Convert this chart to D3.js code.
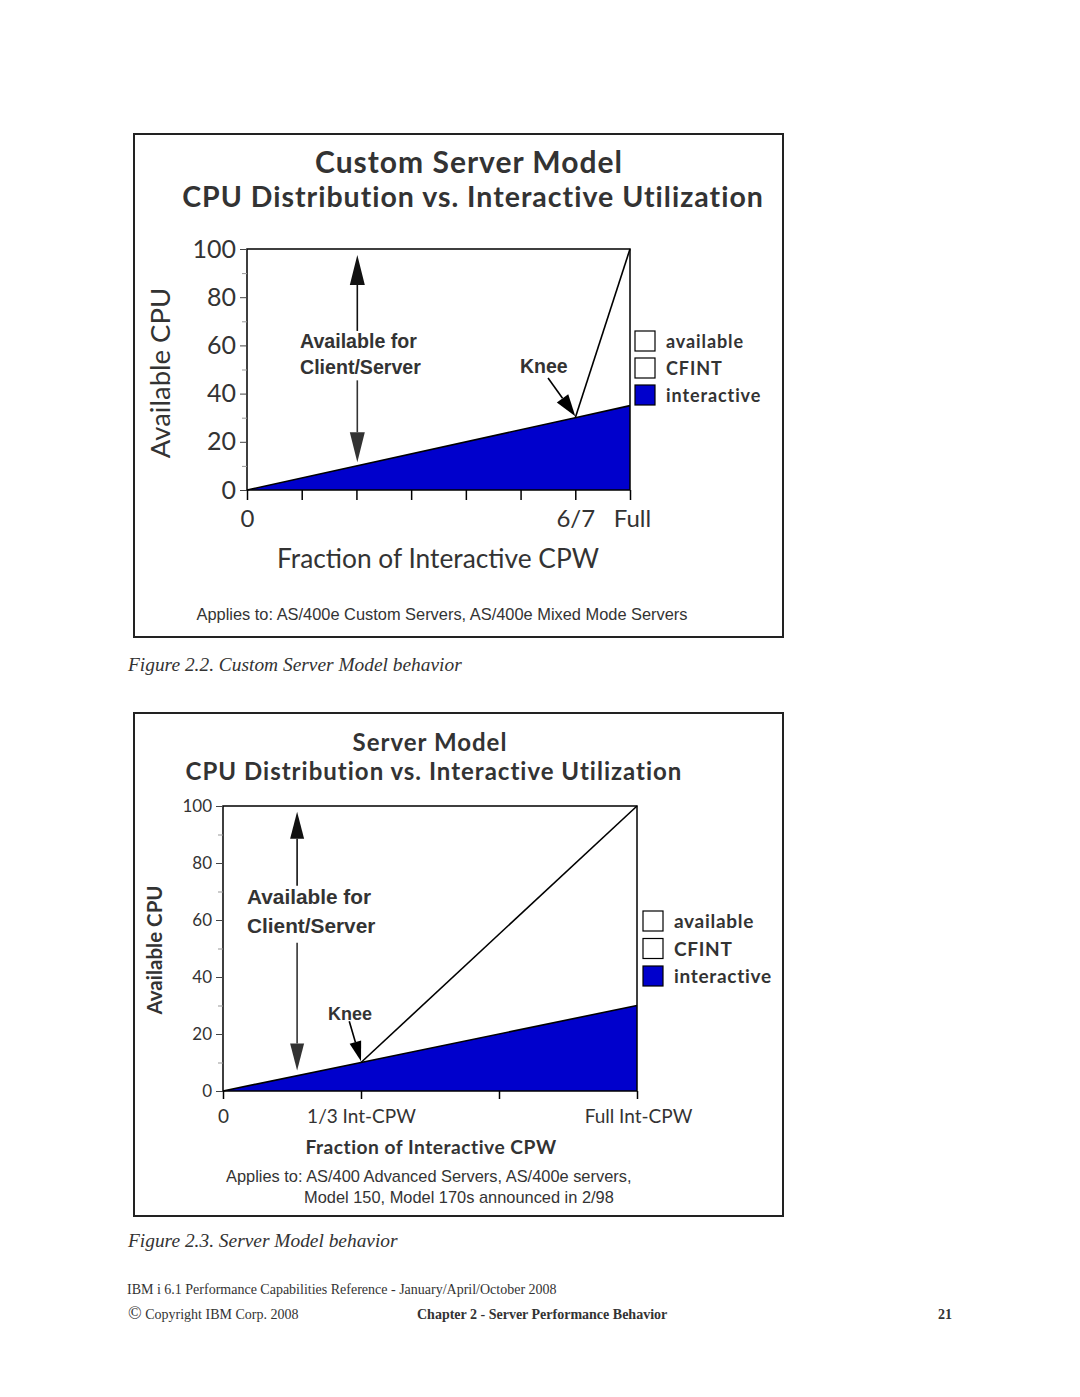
<!DOCTYPE html>
<html>
<head>
<meta charset="utf-8">
<script src="https://cdn.jsdelivr.net/npm/d3@7"></script>
<style>
  body { margin: 0; background: #fff; }
  svg text { fill: #333; }
</style>
</head>
<body>
<svg id="page" width="1080" height="1397"></svg>
<script>
// --- data ---
const yTicks = [0, 20, 40, 60, 80, 100];
const yMinorTicks = [10, 30, 50, 70, 90];
const legendLabels = ['available', 'CFINT', 'interactive'];
const legendColors = ['#fff', '#fff', '#0000cc'];

// Figure 2.2 custom server model
const customX = [0, 6/7, 1];
const customInteractive = [0, 30, 35];
const customAvailX = [6/7, 1];
const customAvailY = [30, 100];
const customTicks = [0, 1/7, 2/7, 3/7, 4/7, 5/7, 6/7, 1];
const customTickLabels = ['0', '', '', '', '', '', '6/7', 'Full'];

// Figure 2.3 server model
const serverX = [0, 1/3, 1];
const serverInteractive = [0, 10, 30];
const serverAvailX = [1/3, 1];
const serverAvailY = [10, 100];
const serverTicks = [0, 1/3, 2/3, 1];
const serverTickLabels = ['0', '1/3 Int-CPW', '', 'Full Int-CPW'];

const gill = 'Lato, "Open Sans", sans-serif';
const arial = '"Liberation Sans", Arial, sans-serif';
const times = '"Liberation Serif", "Times New Roman", serif';

const svg = d3.select('#page');
svg.append('rect').attr('width', 1080).attr('height', 1397).attr('fill', '#fff');

// arrow with filled triangular head pointing at (x2,y2)
function arrow(g, x1, y1, x2, y2, hl, hw, col) {
  const dx = x2 - x1, dy = y2 - y1, len = Math.hypot(dx, dy);
  const ux = dx / len, uy = dy / len;
  const bx = x2 - ux * hl, by = y2 - uy * hl;
  g.append('line').attr('x1', x1).attr('y1', y1).attr('x2', bx).attr('y2', by)
    .attr('stroke', col).attr('stroke-width', 1.6);
  g.append('path')
    .attr('d', `M${x2},${y2}L${bx - uy * hw / 2},${by + ux * hw / 2}L${bx + uy * hw / 2},${by - ux * hw / 2}Z`)
    .attr('fill', col);
}

function panel(c) {
  const g = svg.append('g');
  g.append('rect').attr('x', c.box[0]).attr('y', c.box[1])
    .attr('width', c.box[2]).attr('height', c.box[3])
    .attr('fill', 'none').attr('stroke', '#222').attr('stroke-width', 2);

  c.titles.forEach(t => g.append('text').attr('x', t[0]).attr('y', t[1])
    .attr('text-anchor', 'middle').attr('font-family', gill).attr('font-weight', 700)
    .attr('font-size', t[3]).attr('letter-spacing', 1).text(t[2]));

  const x = d3.scaleLinear().domain([0, 1]).range([c.plot[0], c.plot[1]]);
  const y = d3.scaleLinear().domain([0, 100]).range([c.plot[3], c.plot[2]]);

  // interactive area
  const pts = c.xs.map((v, i) => [v, c.inter[i]]);
  const area = d3.area().x(d => x(d[0])).y0(y(0)).y1(d => y(d[1]));
  g.append('path').datum(pts).attr('d', area).attr('fill', '#0000cc');
  g.append('path').datum(pts).attr('d', d3.line().x(d => x(d[0])).y(d => y(d[1])))
    .attr('fill', 'none').attr('stroke', '#000').attr('stroke-width', 1.6);
  // CFINT line from knee
  g.append('path').datum(c.availX.map((v, i) => [v, c.availY[i]]))
    .attr('d', d3.line().x(d => x(d[0])).y(d => y(d[1])))
    .attr('fill', 'none').attr('stroke', '#000').attr('stroke-width', 1.6);

  // frame
  g.append('rect').attr('x', x(0)).attr('y', y(100)).attr('width', x(1) - x(0))
    .attr('height', y(0) - y(100)).attr('fill', 'none').attr('stroke', '#000').attr('stroke-width', 1.5);

  // axes
  const ya = g.append('g').attr('transform', `translate(${x(0)},0)`)
    .call(d3.axisLeft(y).tickValues(yTicks).tickSize(c.ytick).tickFormat(d3.format('d')));
  ya.select('.domain').remove();
  ya.selectAll('line').attr('stroke', '#444');
  ya.selectAll('text').attr('font-family', gill).attr('font-size', c.yfs).attr('fill', '#1a1a1a')
    .attr('dx', c.ydx);
  const ym = g.append('g').attr('transform', `translate(${x(0)},0)`)
    .call(d3.axisLeft(y).tickValues(yMinorTicks).tickSize(c.ytick - 2).tickFormat(''));
  ym.select('.domain').remove();
  ym.selectAll('line').attr('stroke', '#999');

  const xa = g.append('g').attr('transform', `translate(0,${y(0)})`)
    .call(d3.axisBottom(x).tickValues(c.ticks).tickSize(c.xtick).tickFormat((d, i) => c.tickLabels[i]));
  xa.select('.domain').remove();
  xa.selectAll('line').attr('stroke', '#000').attr('stroke-width', 1.5);
  xa.selectAll('text').attr('font-family', gill).attr('font-size', c.xfs).attr('fill', '#111')
    .attr('y', c.xlabY).attr('dy', 0);
  c.xLabelShift.forEach((s, i) => {
    xa.selectAll('.tick').filter((d, j) => j === i).select('text').attr('dx', s);
  });

  // axis titles
  g.append('text').attr('transform', `translate(${c.ytitle[0]},${c.ytitle[1]}) rotate(-90)`)
    .attr('text-anchor', 'middle').attr('font-family', gill).attr('font-size', c.ytitle[2])
    .attr('font-weight', c.ytitle[3]).attr('fill', '#555').text('Available CPU');
  g.append('text').attr('x', c.xtitle[0]).attr('y', c.xtitle[1]).attr('text-anchor', 'middle')
    .attr('font-family', gill).attr('font-size', c.xtitle[2]).attr('font-weight', c.xtitle[3])
    .attr('letter-spacing', c.xtitle[4]).attr('fill', '#444').text('Fraction of Interactive CPW');

  // annotations
  const a = c.avail;
  arrow(g, x(a.x), y(a.upFrom), x(a.x), y(a.upTo), a.hl, a.hw, '#111');
  arrow(g, x(a.x), y(a.dnFrom), x(a.x), y(a.dnTo), a.hl, a.hw, '#333');
  ['Available for', 'Client/Server'].forEach((t, i) => g.append('text')
    .attr('x', a.tx).attr('y', a.ty + i * a.lh).attr('font-family', arial).attr('font-weight', 700)
    .attr('font-size', a.fs).attr('fill', '#111').text(t));
  const k = c.knee;
  arrow(g, x(k.from[0]), y(k.from[1]), x(k.to[0]), y(k.to[1]), k.hl, k.hw, '#000');
  g.append('text').attr('x', k.tx).attr('y', k.ty).attr('font-family', arial).attr('font-weight', 700)
    .attr('font-size', k.fs).attr('fill', '#111').text('Knee');

  // legend
  const lg = g.append('g');
  legendLabels.forEach((lab, i) => {
    lg.append('rect').attr('x', c.legend.x).attr('y', c.legend.y + i * c.legend.step)
      .attr('width', 20).attr('height', 20).attr('fill', legendColors[i])
      .attr('stroke', '#000').attr('stroke-width', 1.2);
    lg.append('text').attr('x', c.legend.x + 31).attr('y', c.legend.y + i * c.legend.step + 17)
      .attr('font-family', gill).attr('font-weight', 700).attr('font-size', c.legend.fs)
      .attr('letter-spacing', c.legend.ls).attr('fill', '#444').text(lab);
  });

  // applies to
  c.applies.forEach(t => g.append('text').attr('x', t[0]).attr('y', t[1])
    .attr('text-anchor', t[3]).attr('font-family', arial).attr('font-size', 16.4)
    .attr('fill', '#333').text(t[2]));

  svg.append('text').attr('x', 128).attr('y', c.caption[1]).attr('font-family', times)
    .attr('font-style', 'italic').attr('font-size', 19.4).attr('fill', '#111').text(c.caption[0]);
}

panel({
  box: [134, 134, 649, 503],
  titles: [[469, 173, 'Custom Server Model', 30], [473, 207, 'CPU Distribution vs. Interactive Utilization', 28.5]],
  plot: [247, 630, 249, 490],
  xs: customX, inter: customInteractive, availX: customAvailX, availY: customAvailY,
  ticks: customTicks, tickLabels: customTickLabels, xLabelShift: [0, 0, 0, 0, 0, 0, 0, 2],
  ytick: 7, yfs: 25, ydx: -1, xtick: 10, xfs: 24, xlabY: 37,
  ytitle: [170, 373, 27.5, 400], xtitle: [438, 568, 26.3, 400, 0],
  avail: { x: 0.288, upFrom: 66, upTo: 97.5, dnFrom: 45.5, dnTo: 11.5, hl: 30, hw: 15, tx: 300, ty: 348, lh: 26, fs: 19.6 },
  knee: { from: [0.786, 46.5], to: [6/7, 30.6], hl: 22, hw: 14, tx: 520, ty: 373, fs: 19.5 },
  legend: { x: 635, y: 331, step: 27, fs: 18, ls: 0.9 },
  applies: [[442, 620, 'Applies to: AS/400e Custom Servers, AS/400e Mixed Mode Servers', 'middle']],
  caption: ['Figure 2.2. Custom Server Model behavior', 671]
});

panel({
  box: [134, 713, 649, 503],
  titles: [[430, 751, 'Server Model', 24], [434, 780, 'CPU Distribution vs. Interactive Utilization', 24]],
  plot: [223, 637, 806, 1091],
  xs: serverX, inter: serverInteractive, availX: serverAvailX, availY: serverAvailY,
  ticks: serverTicks, tickLabels: serverTickLabels, xLabelShift: [0, 0, 0, 1],
  ytick: 7, yfs: 17, ydx: -1, xtick: 8, xfs: 19, xlabY: 32,
  ytitle: [162, 950, 20.5, 700], xtitle: [431, 1154, 19.2, 700, 0.5],
  avail: { x: 0.179, upFrom: 72, upTo: 98, dnFrom: 52, dnTo: 7.2, hl: 27, hw: 14, tx: 247, ty: 904, lh: 29, fs: 20.8 },
  knee: { from: [0.305, 24.5], to: [1/3, 10.4], hl: 20, hw: 12, tx: 328, ty: 1020, fs: 18 },
  legend: { x: 643, y: 911, step: 27.5, fs: 19, ls: 0.7 },
  applies: [[226, 1182, 'Applies to: AS/400 Advanced Servers, AS/400e servers,', 'start'],
            [304, 1203, 'Model 150, Model 170s announced in 2/98', 'start']],
  caption: ['Figure 2.3. Server Model behavior', 1247]
});

// page footer
const foot = svg.append('g').attr('font-family', times).attr('font-size', 14);
foot.append('text').attr('x', 127).attr('y', 1294).attr('fill', '#111')
  .text('IBM i 6.1 Performance Capabilities Reference - January/April/October 2008');
foot.append('text').attr('x', 128).attr('y', 1319).attr('fill', '#111')
  .html('<tspan font-size="18">©</tspan> Copyright IBM Corp. 2008');
foot.append('text').attr('x', 417).attr('y', 1319).attr('font-weight', 700).attr('fill', '#111')
  .text('Chapter 2 - Server Performance Behavior');
foot.append('text').attr('x', 952).attr('y', 1319).attr('text-anchor', 'end').attr('font-weight', 700)
  .attr('fill', '#111').text('21');
</script>
</body>
</html>
